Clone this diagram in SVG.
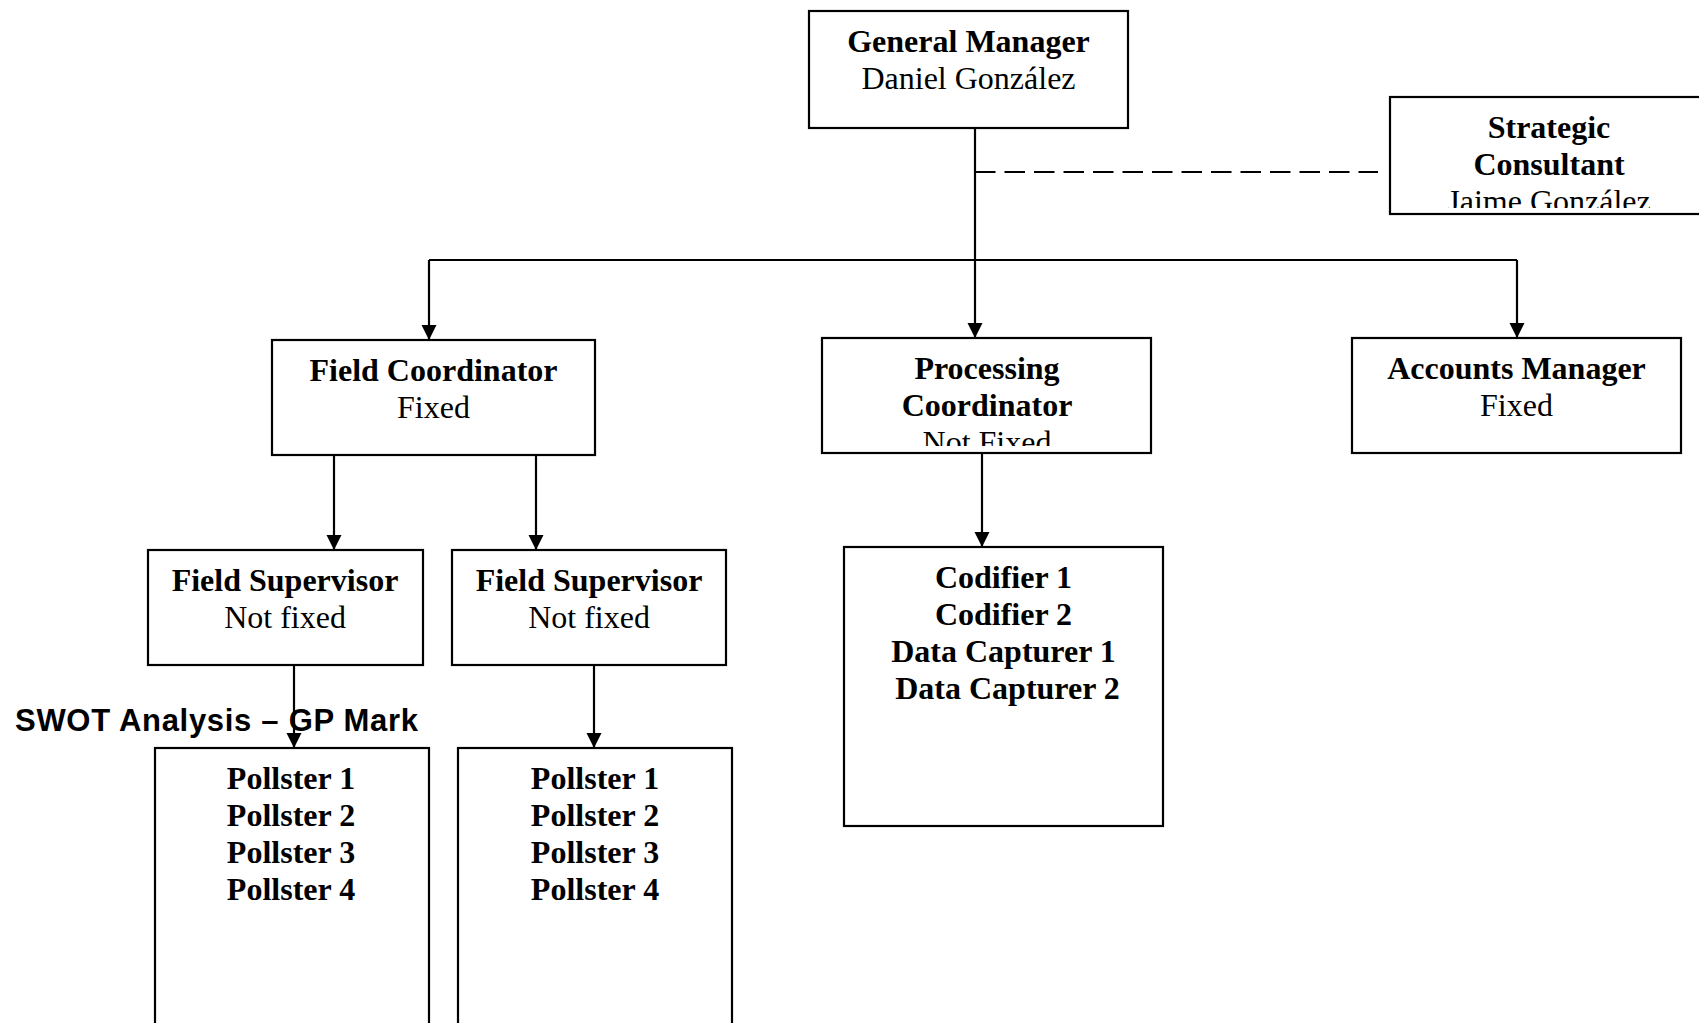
<svg xmlns="http://www.w3.org/2000/svg" width="1699" height="1023" viewBox="0 0 1699 1023">
<style>
.box{fill:#fff;stroke:#000;stroke-width:2.2}
.t{font-family:"Liberation Serif","Times New Roman",serif;font-size:32px;fill:#000;text-anchor:middle}
.b{font-weight:bold}
.ln{fill:none;stroke:#000;stroke-width:2.2}
.dash{stroke-dasharray:20.5 9}
.swot{font-family:"Liberation Sans",Arial,sans-serif;font-size:31px;letter-spacing:0.7px;font-weight:bold;fill:#000}
</style>
<defs>
<marker id="ah" markerUnits="userSpaceOnUse" markerWidth="16" markerHeight="16" viewBox="0 0 16 16" refX="15" refY="7.5" orient="auto">
<path d="M0,0 L15,7.5 L0,15 Z" fill="#000"/>
</marker>
<clipPath id="clipSC"><rect x="1390" y="97" width="320" height="111"/></clipPath>
<clipPath id="clipPC"><rect x="822" y="338" width="329" height="108"/></clipPath>
</defs>
<rect width="1699" height="1023" fill="#fff"/>

<text class="swot" x="15" y="731">SWOT Analysis – GP Mark</text>

<g id="general-manager">
<rect class="box" x="809" y="11" width="319" height="117"/>
<text class="t b" x="968.5" y="52">General Manager</text>
<text class="t" x="968.5" y="89">Daniel González</text>
</g>

<g id="strategic-consultant">
<rect class="box" x="1390" y="97" width="320" height="117"/>
<g clip-path="url(#clipSC)">
<text class="t b" x="1549" y="138">Strategic</text>
<text class="t b" x="1549" y="175">Consultant</text>
<text class="t" x="1549" y="212">Jaime González</text>
</g>
</g>

<g id="field-coordinator">
<rect class="box" x="272" y="340" width="323" height="115"/>
<text class="t b" x="433.5" y="381">Field Coordinator</text>
<text class="t" x="433.5" y="418">Fixed</text>
</g>

<g id="processing-coordinator">
<rect class="box" x="822" y="338" width="329" height="115"/>
<g clip-path="url(#clipPC)">
<text class="t b" x="987" y="379">Processing</text>
<text class="t b" x="987" y="416">Coordinator</text>
<text class="t" x="987" y="453">Not Fixed</text>
</g>
</g>

<g id="accounts-manager">
<rect class="box" x="1352" y="338" width="329" height="115"/>
<text class="t b" x="1516.5" y="379">Accounts Manager</text>
<text class="t" x="1516.5" y="416">Fixed</text>
</g>

<g id="field-supervisor-1">
<rect class="box" x="148" y="550" width="275" height="115"/>
<text class="t b" x="285" y="591">Field Supervisor</text>
<text class="t" x="285" y="628">Not fixed</text>
</g>

<g id="field-supervisor-2">
<rect class="box" x="452" y="550" width="274" height="115"/>
<text class="t b" x="589" y="591">Field Supervisor</text>
<text class="t" x="589" y="628">Not fixed</text>
</g>

<g id="processing-staff">
<rect class="box" x="844" y="547" width="319" height="279"/>
<text class="t b" x="1003.5" y="588">Codifier 1</text>
<text class="t b" x="1003.5" y="625">Codifier 2</text>
<text class="t b" x="1003.5" y="662">Data Capturer 1</text>
<text class="t b" x="1003.5" y="699" xml:space="preserve"> Data Capturer 2</text>
</g>

<g id="pollsters-1">
<rect class="box" x="155" y="748" width="274" height="290"/>
<text class="t b" x="291" y="789">Pollster 1</text>
<text class="t b" x="291" y="826">Pollster 2</text>
<text class="t b" x="291" y="863">Pollster 3</text>
<text class="t b" x="291" y="900">Pollster 4</text>
</g>

<g id="pollsters-2">
<rect class="box" x="458" y="748" width="274" height="290"/>
<text class="t b" x="595" y="789">Pollster 1</text>
<text class="t b" x="595" y="826">Pollster 2</text>
<text class="t b" x="595" y="863">Pollster 3</text>
<text class="t b" x="595" y="900">Pollster 4</text>
</g>

<g id="connectors">
<path class="ln" d="M975,128 V338" marker-end="url(#ah)"/>
<path class="ln dash" d="M975,172 H1378"/>
<path class="ln" d="M429,260 H1517"/>
<path class="ln" d="M429,260 V340" marker-end="url(#ah)"/>
<path class="ln" d="M1517,260 V338" marker-end="url(#ah)"/>
<path class="ln" d="M334,455 V550" marker-end="url(#ah)"/>
<path class="ln" d="M536,455 V550" marker-end="url(#ah)"/>
<path class="ln" d="M982,453 V547" marker-end="url(#ah)"/>
<path class="ln" d="M294,665 V748" marker-end="url(#ah)"/>
<path class="ln" d="M594,665 V748" marker-end="url(#ah)"/>
</g>
</svg>
